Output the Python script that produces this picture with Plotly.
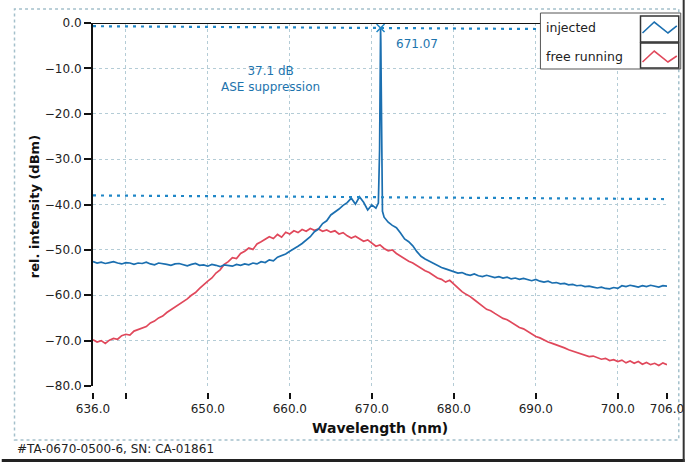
import plotly.graph_objects as go

# ---------------- data ----------------
inj_wl_left = [636.0 + 0.5 * i for i in range(70)]          # 636.0 .. 670.5
inj_db_left = [
    -52.6, -52.9, -52.7, -53.0, -52.8, -52.6, -52.9, -53.1, -52.8, -52.9,
    -53.2, -52.9, -53.0, -52.7, -53.1, -53.3, -52.9, -53.0, -53.2, -53.4,
    -53.1, -53.0, -53.3, -53.5, -53.2, -53.0, -53.4, -53.3, -53.6, -53.2,
    -53.4, -53.7, -53.3, -53.5, -53.6, -53.2, -53.4, -53.1, -53.3, -52.9,
    -53.1, -52.6, -52.8, -52.2, -52.4, -51.6, -51.2, -50.9, -50.3, -49.8,
    -49.2, -48.6, -47.9, -47.1, -46.0, -45.4, -44.2, -43.6, -42.3, -41.7,
    -41.0, -40.2, -39.6, -38.6, -39.9, -38.3, -39.5, -41.2, -40.1, -40.8,
]
spike_wl = [670.8, 670.95, 671.0, 671.05, 671.07, 671.1, 671.15, 671.2, 671.3]
spike_db = [-39.7, -28.0, -12.0, -3.0, -1.1, -4.0, -14.0, -30.0, -41.5]
inj_wl_right = [671.5 + 0.5 * i for i in range(70)]         # 671.5 .. 706.0
inj_db_right = [
    -42.8, -43.9, -44.6, -45.1, -46.3, -47.6, -48.2, -49.1,
    -50.4, -51.4, -52.0, -52.5, -53.0, -53.5, -53.9, -54.2, -54.5, -54.8,
    -55.1, -55.0, -55.4, -55.6, -55.3, -55.7, -55.9, -55.6, -55.8, -56.1,
    -55.9, -56.2, -56.0, -56.4, -56.2, -56.5, -56.3, -56.6, -56.8, -56.5,
    -56.9, -57.1, -56.9, -57.3, -57.2, -57.5, -57.4, -57.7, -57.6, -57.9,
    -57.8, -58.1, -58.0, -58.2, -58.4, -58.2, -58.5, -58.6, -58.3, -58.5,
    -57.9, -58.1, -57.8, -58.0, -58.2, -57.9, -58.1, -57.8, -58.0, -58.2, -57.9, -58.0,
]
injected_wl = inj_wl_left + spike_wl + inj_wl_right
injected_db = inj_db_left + spike_db + inj_db_right

free_wl = [636.0 + 0.5 * i for i in range(141)]             # 636.0 .. 706.0
free_db = [
    -69.8, -70.3, -70.0, -70.6, -69.9, -69.5, -69.7, -68.9, -68.6, -68.8,
    -67.9, -67.6, -67.2, -66.9, -66.1, -65.7, -65.0, -64.6, -63.8, -63.2,
    -62.7, -62.0, -61.5, -60.8, -60.0, -59.4, -58.5, -57.6, -56.9, -56.2,
    -55.1, -54.4, -53.2, -52.6, -51.7, -51.9, -50.8, -50.3, -49.6, -49.9,
    -48.7, -48.2, -47.6, -47.1, -47.5, -46.6, -47.2, -46.1, -46.5, -45.8,
    -46.2, -45.5, -45.9, -45.3, -45.7, -45.4, -45.9, -45.6, -46.1, -45.8,
    -46.5, -46.2, -46.9, -47.4, -47.0, -47.6, -48.1, -47.8, -48.6, -49.2,
    -48.9, -49.7, -50.2, -50.0, -50.8, -51.4, -51.9, -52.5, -52.9, -53.5,
    -54.1, -54.6, -55.0, -55.6, -56.2, -56.5, -57.1, -56.7, -57.6, -58.4,
    -59.2, -59.8, -60.3, -61.0, -61.8, -62.4, -63.1, -63.4, -64.0, -64.5,
    -65.1, -65.4, -66.0, -66.5, -67.1, -67.4, -68.0, -68.6, -69.1, -69.4,
    -69.9, -70.3, -70.6, -70.9, -71.3, -71.6, -72.0, -72.3, -72.6, -72.9,
    -73.1, -73.5, -73.4, -73.8, -74.1, -73.9, -74.4, -74.2, -74.6, -74.3,
    -74.9, -74.5, -75.0, -74.6, -75.2, -74.8, -75.3, -75.0, -75.5, -74.9,
    -75.3,
]

peak_wl = [671.07]
peak_db = [-1.1]
peak_label = "671.07"
ase_label = "37.1 dB<br>ASE suppression"

dash_x = [636.0, 706.0]
peak_line_db = [-0.7, -1.5]
ase_line_db = [-38.0, -38.8]

x_tickvals = [636, 640, 650, 660, 670, 680, 690, 700, 706]
x_ticktext = ["636.0", "", "650.0", "660.0", "670.0", "680.0", "690.0", "700.0", "706.0"]
x_gridvals = [640, 650, 660, 670, 680, 690, 700, 706]
y_tickvals = [0, -10, -20, -30, -40, -50, -60, -70, -80]

series_names = ["injected", "free running"]

# ---------------- styling ----------------
BLUE = "#1b6fb0"
RED = "#e0485b"
DASH_BLUE = "#1f86c6"
TXT_BLUE = "#1d74ad"
GRID = "#b4ccd6"
FONT = "DejaVu Sans"

W_FIG, H_FIG = 696, 462
ML, MR, MT, MB = 93, 18, 23, 70
PW = W_FIG - ML - MR
PH = H_FIG - MT - MB


def fx(px):
    return (px - ML) / PW


def fy(py):
    return (H_FIG - MB - py) / PH


fig = go.Figure()

fig.add_trace(go.Scatter(x=free_wl, y=free_db, mode="lines", name=series_names[1],
                         line=dict(color=RED, width=1.7), hoverinfo="skip"))
fig.add_trace(go.Scatter(x=injected_wl, y=injected_db, mode="lines", name=series_names[0],
                         line=dict(color=BLUE, width=1.7), hoverinfo="skip"))
fig.add_trace(go.Scatter(x=dash_x, y=peak_line_db, mode="lines",
                         line=dict(color=DASH_BLUE, width=2.2, dash="3px,5px"), hoverinfo="skip"))
fig.add_trace(go.Scatter(x=dash_x, y=ase_line_db, mode="lines",
                         line=dict(color=DASH_BLUE, width=2.2, dash="3px,5px"), hoverinfo="skip"))
fig.add_trace(go.Scatter(x=peak_wl, y=peak_db, mode="markers",
                         marker=dict(symbol="x-thin", size=8, line=dict(color=DASH_BLUE, width=1.5)),
                         hoverinfo="skip"))
# helper trace to show the offset tick axis
fig.add_trace(go.Scatter(x=[free_wl[0]], y=[free_db[0]], xaxis="x2", yaxis="y", mode="markers",
                         marker=dict(opacity=0), hoverinfo="skip"))

ydom0 = 6 / PH

fig.update_layout(
    width=W_FIG, height=H_FIG,
    margin=dict(l=ML, r=MR, t=MT, b=MB),
    paper_bgcolor="white", plot_bgcolor="white",
    showlegend=False,
    font=dict(family=FONT, size=12, color="#222"),
    xaxis=dict(range=[636, 706], domain=[0, 1], anchor="y",
               tickmode="array", tickvals=x_gridvals, showticklabels=False, ticks="",
               showgrid=True, gridcolor=GRID, griddash="dot", gridwidth=1,
               showline=False, zeroline=False),
    xaxis2=dict(range=[636, 706], domain=[0, 1], overlaying="x", anchor="free", position=0,
                tickmode="array", tickvals=x_tickvals, ticktext=x_ticktext,
                ticks="outside", ticklen=6, tickwidth=1.5, tickcolor="#111",
                tickfont=dict(family=FONT, size=12, color="#222"),
                showgrid=False, showline=False, zeroline=False),
    yaxis=dict(range=[-80, 0], domain=[ydom0, 1], anchor="x",
               tickmode="array", tickvals=y_tickvals, tickformat=".1f",
               ticks="outside", ticklen=7, tickwidth=2, tickcolor="#111",
               tickfont=dict(family=FONT, size=12, color="#222"),
               showgrid=True, gridcolor=GRID, griddash="dot", gridwidth=1,
               showline=True, linecolor="#111", linewidth=2, zeroline=False),
)

shapes = []
# outer dotted frame
shapes.append(dict(type="rect", xref="paper", yref="paper",
                   x0=fx(13), x1=fx(690), y0=fy(440), y1=fy(9),
                   line=dict(color="#a4c0cb", width=1.5, dash="dot"), layer="below"))
# top plot border (black)
shapes.append(dict(type="line", xref="x", yref="y", x0=636, x1=706, y0=0, y1=0,
                   line=dict(color="#111", width=2), layer="above"))
# scan edges
shapes.append(dict(type="line", xref="paper", yref="paper", x0=fx(0), x1=fx(696),
                   y0=fy(460.5), y1=fy(460.5), line=dict(color="#222", width=3)))
shapes.append(dict(type="line", xref="paper", yref="paper", x0=fx(695), x1=fx(695),
                   y0=fy(0), y1=fy(462), line=dict(color="#333", width=2)))
# legend box
shapes.append(dict(type="rect", xref="paper", yref="paper",
                   x0=fx(549), x1=fx(692), y0=fy(69), y1=fy(13),
                   fillcolor="white", line=dict(color="#555", width=1), layer="above"))
for (top, bot) in [(16, 42), (43, 68)]:
    shapes.append(dict(type="rect", xref="paper", yref="paper",
                       x0=fx(651), x1=fx(690), y0=fy(bot), y1=fy(top),
                       fillcolor="white", line=dict(color="#333", width=1.5), layer="above"))


def zig(pts):
    return "M " + " L ".join(f"{fx(a):.4f},{fy(b):.4f}" for a, b in pts)


shapes.append(dict(type="path", xref="paper", yref="paper",
                   path=zig([(653, 33), (665, 22), (679, 33), (688, 26)]),
                   line=dict(color=BLUE, width=1.6), layer="above"))
shapes.append(dict(type="path", xref="paper", yref="paper",
                   path=zig([(653, 62), (665, 51), (679, 62), (688, 56)]),
                   line=dict(color=RED, width=1.6), layer="above"))
fig.update_layout(shapes=shapes)

ann = []
ann.append(dict(text=series_names[0], xref="paper", yref="paper", x=fx(553), y=fy(28),
                xanchor="left", yanchor="middle", showarrow=False,
                font=dict(family=FONT, size=12.5, color="#222")))
ann.append(dict(text=series_names[1], xref="paper", yref="paper", x=fx(553), y=fy(57),
                xanchor="left", yanchor="middle", showarrow=False,
                font=dict(family=FONT, size=12.5, color="#222")))
ann.append(dict(text=peak_label, xref="x", yref="y", x=675.5, y=-4.6,
                xanchor="center", yanchor="middle", showarrow=False,
                font=dict(family=FONT, size=12, color=TXT_BLUE)))
ann.append(dict(text=ase_label, xref="x", yref="y", x=657.7, y=-12.4,
                xanchor="center", yanchor="middle", showarrow=False,
                font=dict(family=FONT, size=12, color=TXT_BLUE)))
ann.append(dict(text="<b>Wavelength (nm)</b>", xref="paper", yref="paper", x=fx(385), y=fy(428),
                xanchor="center", yanchor="middle", showarrow=False,
                font=dict(family=FONT, size=14, color="#111")))
ann.append(dict(text="<b>rel. intensity (dBm)</b>", xref="paper", yref="paper", x=fx(33), y=fy(207),
                xanchor="center", yanchor="middle", showarrow=False, textangle=-90,
                font=dict(family=FONT, size=13, color="#111")))
ann.append(dict(text="#TA-0670-0500-6, SN: CA-01861", xref="paper", yref="paper", x=fx(14), y=fy(449),
                xanchor="left", yanchor="middle", showarrow=False,
                font=dict(family=FONT, size=12, color="#222")))
fig.update_layout(annotations=ann)

fig.write_html("out.html")
